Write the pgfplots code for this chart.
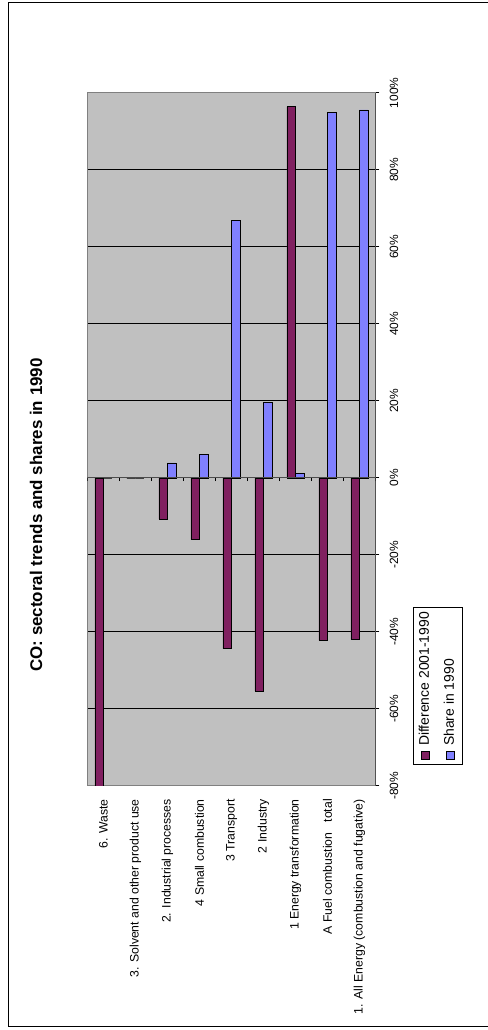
\documentclass[border=0pt]{standalone}
\usepackage{pgfplots}
\usepackage{pgfplotstable}
\pgfplotsset{compat=1.18}
\usepackage{graphicx}
\usepackage{fontspec}
\setmainfont{Liberation Sans}
\definecolor{diffc}{RGB}{128,32,96}
\definecolor{sharec}{RGB}{128,128,255}
\definecolor{plotbg}{RGB}{192,192,192}
\definecolor{framegray}{RGB}{128,128,128}
\pgfplotsset{sqlegend/.style={legend image code/.code={\draw[##1] (0bp,-4bp) rectangle (8bp,4bp);}}}
\pgfplotstableread{
pos diff share
0 -42.0 95.6
1 -42.2 94.9
2 96.4 1.1
3 -55.3 19.7
4 -44.3 67.0
5 -16.0 6.2
6 -10.7 3.9
7 0 0
8 -82 0
}\datatable
\newsavebox{\chartbox}
\begin{document}
\begin{lrbox}{\chartbox}%
\begin{tikzpicture}[x=1bp,y=1bp]
\path[use as bounding box] (0,0) rectangle (1030,488);
\draw[line width=1bp] (3,0) -- (3,479) -- (1027,479) -- (1027,0);
\node[font=\fontsize{17}{20}\selectfont\bfseries] at (515,452) {CO: sectoral trends and shares in 1990};
\begin{axis}[
  at={(244bp,112.5bp)}, anchor=south west,
  scale only axis, width=693bp, height=288bp,
  xbar, bar width=8.5bp,
  xmin=-80, xmax=100, ymin=-0.5, ymax=8.5,
  axis background/.style={fill=plotbg},
  axis line style={framegray, line width=1bp},
  xmajorgrids, major grid style={black, line width=1bp},
  xtick={-80,-60,-40,-20,0,20,40,60,80,100},
  xticklabels={-80\%,-60\%,-40\%,-20\%,0\%,20\%,40\%,60\%,80\%,100\%},
  xtick pos=left, tick align=outside, major tick length=4bp,
  x tick style={black, line width=1bp},
  xticklabel style={font=\fontsize{12}{14}\selectfont, anchor=north, inner sep=0pt, yshift=-10bp},
  ytick={0,1,2,3,4,5,6,7,8},
  yticklabels={1. All Energy (combustion and fugative),A Fuel combustion\ \ \ total,1 Energy transformation,2 Industry,3 Transport,4 Small combustion,2. Industrial processes,3. Solvent and other product use,6. Waste},
  y tick style={draw=none},
  yticklabel style={font=\fontsize{12.3}{14}\selectfont, anchor=east, inner sep=0pt, xshift=-9bp},
  legend style={at={(axis description cs:0.0303,-0.130)}, anchor=north west, draw=black, line width=0.75bp, fill=white, font=\fontsize{14}{16}\selectfont, inner xsep=5bp, inner ysep=5.5bp, row sep=12bp, column sep=5bp, nodes={inner sep=0pt, anchor=west, text height=10bp, text depth=3bp}},
  legend cell align=left,
]
\addplot[fill=diffc, draw=black, line width=0.75bp, bar shift=4.25bp, sqlegend] table[x=diff,y=pos]{\datatable};
\addplot[fill=sharec, draw=black, line width=0.75bp, bar shift=-4.25bp, sqlegend] table[x=share,y=pos]{\datatable};
\legend{Difference 2001-1990,Share in 1990}
\draw[black, line width=1bp] (rel axis cs:0,0) -- (rel axis cs:1,0);
\draw[black!70, line width=1bp] (axis cs:0,-0.5) -- (axis cs:0,8.5);
\pgfplotsinvokeforeach{-0.5,0.5,1.5,2.5,3.5,4.5,5.5,6.5,7.5,8.5}{\draw[black, line width=1bp] (axis cs:-0.8,#1) -- (axis cs:0,#1);}
\end{axis}
\end{tikzpicture}%
\end{lrbox}%
\rotatebox{90}{\usebox{\chartbox}}
\end{document}
